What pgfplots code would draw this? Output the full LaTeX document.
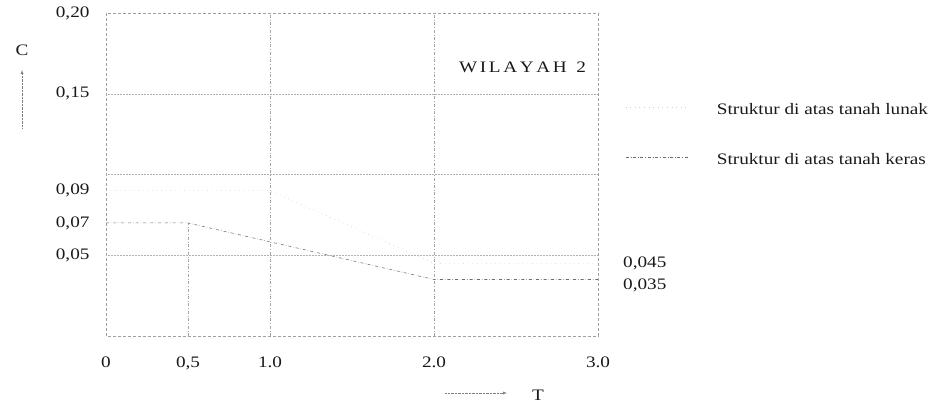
\documentclass[border=0pt]{standalone}
\usepackage{fontspec}
\setmainfont[FakeStretch=1.2]{Liberation Serif}
\usepackage{pgfplots}
\pgfplotsset{compat=1.18}
\begin{document}
\fontsize{16}{19}\selectfont
\begin{tikzpicture}[x=1pt,y=1pt]
\useasboundingbox (0,0) rectangle (934,405);
\begin{axis}[
  at={(106pt,69pt)}, anchor=south west,
  scale only axis, width=492pt, height=323pt,
  xmin=0, xmax=3, ymin=0, ymax=0.2,
  axis line style={gray!75, densely dashed, line width=0.5pt},
  xtick={0,0.5,1,2,3},
  xticklabels={0,{0,5},1.0,2.0,3.0},
  ytick={0.05,0.07,0.09,0.15,0.20},
  yticklabels={{0,05},{0,07},{0,09},{0,15},{0,20}},
  major tick length=0pt,
  xticklabel style={yshift=-15pt, text=black!90},
  yticklabel style={xshift=-11pt, text=black!90},
  clip=false,
  legend cell align=left,
  legend style={at={(1.055,0.72)}, anchor=north west, draw=none, fill=none,
    inner sep=0pt, row sep=35pt,
    nodes={inner sep=0pt, text height=11pt, text depth=4pt, text=black!90}},
  legend image code/.code={\draw[#1] (0pt,4pt) -- (63pt,4pt);},
  /tikz/every odd column/.append style={column sep=28pt},
]
% grid lines
\addplot[gray!60, densely dotted, line width=0.5pt, forget plot] coordinates {(0,0.05) (3,0.05)};
\addplot[gray!60, densely dotted, line width=0.5pt, forget plot] coordinates {(0,0.10) (3,0.10)};
\addplot[gray!60, densely dotted, line width=0.5pt, forget plot] coordinates {(0,0.15) (3,0.15)};
\addplot[gray!70, dash dot, line width=0.5pt, forget plot] coordinates {(1,0) (1,0.2)};
\addplot[gray!70, dash dot, line width=0.5pt, forget plot] coordinates {(2,0) (2,0.2)};
\addplot[gray!70, dash dot, line width=0.5pt, forget plot] coordinates {(0.5,0) (0.5,0.07)};
% data
\addplot[gray!40, loosely dotted, line width=0.6pt] coordinates {(0,0.09) (1,0.09) (2,0.045) (3,0.045)};
\addlegendentry{Struktur di atas tanah lunak}
\addplot[gray!85!black, dash dot, line width=0.55pt] coordinates {(0,0.07) (0.5,0.07) (2,0.035) (3,0.035)};
\addlegendentry{Struktur di atas tanah keras}
% annotations
\node[inner sep=0pt, text=black!90] at (axis cs:2.54,0.1666) {W\,I\,L\,A\,Y\,A\,H\ \ 2};
\node[inner sep=0pt, anchor=west, text=black!90] at (axis cs:3,0.045) [xshift=25pt] {0,045};
\node[inner sep=0pt, anchor=west, text=black!90] at (axis cs:3,0.0316) [xshift=25pt] {0,035};
\end{axis}
\node[text=black!90] at (22,355) {C};
\draw[gray, densely dotted, -latex] (22,277) -- (22,335);
\node[text=black!90] at (538,10) {T};
\draw[gray, densely dotted, -latex] (445,12) -- (507,12);
\end{tikzpicture}
\end{document}
